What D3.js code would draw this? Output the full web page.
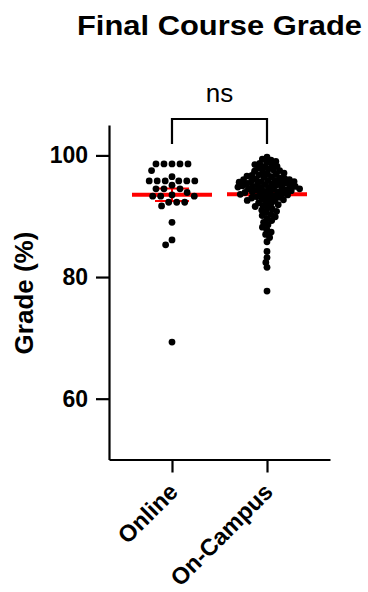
<!DOCTYPE html>
<html>
<head>
<meta charset="utf-8">
<script src="https://cdn.jsdelivr.net/npm/d3@7"></script>
<style>
  html, body { margin: 0; padding: 0; background: #fff; }
  svg { display: block; }
  text { font-family: "Liberation Sans", Arial, Helvetica, sans-serif; }
</style>
</head>
<body>
<svg id="chart" width="368" height="592"></svg>
<script>
// ---- data ----
const categories = ["Online", "On-Campus"];
const onlineGrades = [98.6, 98.6, 98.6, 98.6, 98.6, 97.5, 96.5, 95.8, 95.8, 95.8, 95.8, 95.8, 95.8,
  95.1, 94.5, 94.5, 94.5, 93.9, 93.5, 93.3, 93.3, 93.3, 92.3, 92.3, 92.3, 91.7, 89.0, 86.1, 85.3, 69.3];
const onCampusGrades = [99.7, 99.4, 99.2,
  99.0, 98.8, 98.7, 98.5, 98.4,
  98.2, 98.1, 97.9, 97.8, 97.6, 97.5,
  97.4, 97.3, 97.1, 97.0, 96.9, 96.8, 96.7,
  96.6, 96.5, 96.4, 96.3, 96.2, 96.1, 96.0, 96.0, 95.9, 95.9, 95.8,
  95.7, 95.7, 95.6, 95.5, 95.4, 95.4, 95.3, 95.2, 95.2, 95.1, 95.0, 95.0,
  94.9, 94.9, 94.8, 94.7, 94.7, 94.6, 94.5, 94.5, 94.4, 94.3, 94.3, 94.2,
  94.1, 94.0, 94.0, 93.9, 93.8, 93.7, 93.7, 93.6, 93.5, 93.4, 93.3,
  93.2, 93.1, 93.0, 92.9, 92.8, 92.7, 92.6, 92.5,
  92.4, 92.2, 92.0, 91.9, 91.8,
  91.6, 91.4, 91.2, 91.0,
  90.8, 90.6, 90.3, 90.1,
  89.9, 89.6, 89.3,
  89.0, 88.6, 88.2, 87.8, 87.4, 87.0, 86.5, 85.8,
  84.2, 83.2, 82.4, 81.6, 77.7];
const seriesValues = [onlineGrades, onCampusGrades];
const yTickValues = [60, 80, 100];
const yDomain = [50, 105];
const titleText = "Final Course Grade";
const yLabelText = "Grade (%)";
const significanceText = "ns";

// ---- layout ----
const svg = d3.select("#chart");
const font = '"Liberation Sans", Arial, Helvetica, sans-serif';
const axisLeftX = 109;
const axisRightX = 330;
const axisBottomY = 459.5;
const axisTopY = 125;

const x = d3.scalePoint().domain(categories).range([axisLeftX, axisRightX]).padding(0.663);
const y = d3.scaleLinear().domain(yDomain).range([axisBottomY, axisTopY]);

// Title
svg.append("text")
  .attr("x", 219.5).attr("y", 35)
  .attr("text-anchor", "middle")
  .attr("font-weight", "bold")
  .attr("font-size", 27.5)
  .attr("textLength", 285)
  .attr("lengthAdjust", "spacingAndGlyphs")
  .attr("fill", "#000")
  .text(titleText);

// Y axis
const yAxis = svg.append("g")
  .attr("transform", `translate(${axisLeftX},0)`)
  .call(d3.axisLeft(y).tickValues(yTickValues).tickSize(13).tickSizeOuter(0).tickPadding(8).tickFormat(d3.format("d")));
yAxis.select(".domain").attr("stroke", "#000").attr("stroke-width", 2.2);
yAxis.selectAll(".tick line").attr("stroke", "#000").attr("stroke-width", 2.2);
yAxis.selectAll(".tick text")
  .attr("fill", "#000").attr("font-family", font).attr("font-weight", "bold").attr("font-size", 23);

// X axis
const xAxis = svg.append("g")
  .attr("transform", `translate(0,${axisBottomY})`)
  .call(d3.axisBottom(x).tickSize(13).tickSizeOuter(0));
xAxis.select(".domain").attr("stroke", "#000").attr("stroke-width", 2.2);
xAxis.selectAll(".tick line").attr("stroke", "#000").attr("stroke-width", 2.2);
xAxis.selectAll(".tick text")
  .attr("fill", "#000").attr("font-family", font).attr("font-weight", "bold").attr("font-size", 23.5)
  .attr("text-anchor", "end")
  .attr("transform", "translate(1,28) rotate(-45)")
  .attr("x", 0).attr("y", 0).attr("dy", "0.35em");

// Y label
svg.append("text")
  .attr("transform", `translate(33,293) rotate(-90)`)
  .attr("text-anchor", "middle")
  .attr("font-weight", "bold")
  .attr("font-size", 26)
  .attr("fill", "#000")
  .text(yLabelText);

// Significance bracket
const bracketTop = 119, bracketBottom = 144;
svg.append("path")
  .attr("d", d3.line()([[x(categories[0]), bracketBottom], [x(categories[0]), bracketTop],
                        [x(categories[1]), bracketTop], [x(categories[1]), bracketBottom]]))
  .attr("fill", "none").attr("stroke", "#000").attr("stroke-width", 2.2);
svg.append("text")
  .attr("x", (x(categories[0]) + x(categories[1])) / 2).attr("y", 102)
  .attr("text-anchor", "middle")
  .attr("font-size", 26)
  .attr("fill", "#000")
  .text(significanceText);

// Mean and SEM (red), drawn under dots
const meanHalf = 40, capHalf = 17;
categories.forEach((c, i) => {
  const vals = seriesValues[i];
  const m = d3.mean(vals);
  const sem = d3.deviation(vals) / Math.sqrt(vals.length);
  const cx = x(c);
  const g = svg.append("g").attr("stroke", "#ff0000");
  g.append("line").attr("x1", cx).attr("x2", cx).attr("y1", y(m - sem)).attr("y2", y(m + sem)).attr("stroke-width", 2);
  g.append("line").attr("x1", cx - capHalf).attr("x2", cx + capHalf).attr("y1", y(m + sem)).attr("y2", y(m + sem)).attr("stroke-width", 2);
  g.append("line").attr("x1", cx - capHalf).attr("x2", cx + capHalf).attr("y1", y(m - sem)).attr("y2", y(m - sem)).attr("stroke-width", 2);
  g.append("line").attr("x1", cx - meanHalf).attr("x2", cx + meanHalf).attr("y1", y(m)).attr("y2", y(m)).attr("stroke-width", 4);
});

// Beeswarm placement
function swarm(values, cx, d) {
  const pts = values.map(v => ({ v, y: y(v) })).sort((a, b) => a.y - b.y);
  const placed = [];
  for (const p of pts) {
    const intervals = [];
    for (const q of placed) {
      const dy = Math.abs(q.y - p.y);
      if (dy < d) {
        const dx = Math.sqrt(d * d - dy * dy);
        intervals.push([q.x - dx, q.x + dx]);
      }
    }
    const cands = [cx];
    intervals.forEach(iv => { cands.push(iv[0] - 0.01, iv[1] + 0.01); });
    cands.sort((a, b) => Math.abs(a - cx) - Math.abs(b - cx));
    let chosen = cx;
    for (const c of cands) {
      if (!intervals.some(iv => c > iv[0] && c < iv[1])) { chosen = c; break; }
    }
    p.x = chosen;
    placed.push(p);
  }
  return placed;
}

const spacing = [8, 5];
categories.forEach((c, i) => {
  const pts = swarm(seriesValues[i], x(c), spacing[i]);
  svg.append("g").selectAll("circle").data(pts).join("circle")
    .attr("cx", d => d.x).attr("cy", d => d.y).attr("r", 3.4)
    .attr("fill", "#000");
});
</script>
</body>
</html>
